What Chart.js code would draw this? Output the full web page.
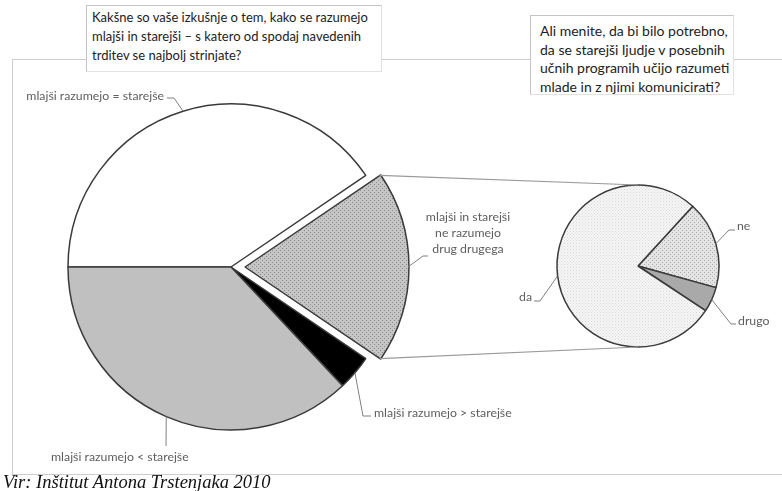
<!DOCTYPE html>
<html>
<head>
<meta charset="utf-8">
<script src="https://cdn.jsdelivr.net/npm/chart.js@4"></script>
<style>
  body { margin: 0; width: 782px; height: 491px; overflow: hidden; background: #fff; position: relative; font-family: Lato, sans-serif; }
  #frame { position: absolute; left: 12px; top: 59px; width: 820px; height: 414px; border: 1px solid #cdcdcd; }
  canvas { position: absolute; left: 0; top: 0; }
  .q { position: absolute; background: #fff; color: #222; white-space: nowrap;
       border-top: 1px solid #c4c4c4; border-left: 1px solid #c4c4c4; border-right: 1px solid #e2e2e2; border-bottom: 1px solid #e2e2e2; box-sizing: border-box; }
  #q1 { left: 86px; top: 5px; width: 296px; height: 67px; padding: 2px 5px; font-size: 13px; line-height: 19px; }
  #q2 { left: 530px; top: 15px; width: 204px; height: 80px; padding: 6px 9px; font-size: 14px; line-height: 18.7px; }
  #src { position: absolute; left: 3px; top: 472px; font: italic 18.5px "Liberation Serif", serif; color: #111; }
</style>
</head>
<body>
<div id="frame"></div>
<canvas id="mainChart" width="782" height="491"></canvas>
<canvas id="subChart" width="782" height="491"></canvas>
<div class="q" id="q1">Kakšne so vaše izkušnje o tem, kako se razumejo<br>mlajši in starejši – s katero od spodaj navedenih<br>trditev se najbolj strinjate?</div>
<div class="q" id="q2">Ali menite, da bi bilo potrebno,<br>da se starejši ljudje v posebnih<br>učnih programih učijo razumeti<br>mlade in z njimi komunicirati?</div>
<div id="src">Vir: Inštitut Antona Trstenjaka 2010</div>
<script>
// data (shares in %)
const mainLabels = ['mlajši razumejo = starejše', 'mlajši in starejši|ne razumejo|drug drugega', 'mlajši razumejo > starejše', 'mlajši razumejo < starejše'];
const mainValues = [40.5, 19, 3.5, 37];
const subLabels = ['ne', 'drugo', 'da'];
const subValues = [17.5, 5, 77.5];

function dotPattern(base, dot, size) {
    const c = document.createElement('canvas');
    c.width = c.height = size;
    const g = c.getContext('2d');
    g.fillStyle = base;
    g.fillRect(0, 0, size, size);
    g.fillStyle = dot;
    g.fillRect(0, 0, 1, 1);
    g.fillRect(size / 2, size / 2, 1, 1);
    return g.createPattern(c, 'repeat');
}

// point on the outer edge of an arc, frac 0..1 along it
function arcPoint(el, frac) {
    const a = el.startAngle + (el.endAngle - el.startAngle) * frac;
    const mid = (el.startAngle + el.endAngle) / 2;
    const s = (el.options.offset || 0) / 4;
    return [el.x + Math.cos(mid) * s + Math.cos(a) * el.outerRadius,
            el.y + Math.sin(mid) * s + Math.sin(a) * el.outerRadius];
}

// slice labels with leader lines
const notesPlugin = {
    id: 'notes',
    afterDatasetsDraw(chart, args, opts) {
        const ctx = chart.ctx;
        const meta = chart.getDatasetMeta(0);
        ctx.save();
        ctx.font = '12.3px Lato, sans-serif';
        ctx.fillStyle = '#5e5e5e';
        ctx.strokeStyle = '#808080';
        ctx.lineWidth = 1;
        ctx.textBaseline = 'middle';
        opts.items.forEach(n => {
            const p = arcPoint(meta.data[n.index], 0.5);
            ctx.beginPath();
            ctx.moveTo(p[0], p[1]);
            n.path.forEach(q => ctx.lineTo(q[0], q[1]));
            ctx.stroke();
            ctx.textAlign = n.align;
            chart.data.labels[n.index].split('|').forEach((t, k) => ctx.fillText(t, n.x, n.y + k * 16));
        });
        ctx.restore();
    }
};

const mainCtx = document.getElementById('mainChart').getContext('2d');
const mainChart = new Chart(mainCtx, {
    type: 'pie',
    data: {
        labels: mainLabels,
        datasets: [{
            data: mainValues,
            backgroundColor: ['#ffffff', dotPattern('#c6c6c6', '#8a8a8a', 4), '#000000', '#c0c0c0'],
            borderColor: '#3a3a3a',
            borderWidth: 1.5,
            offset: [0, 56, 0, 0]
        }]
    },
    options: {
        responsive: false,
        animation: false,
        events: [],
        rotation: -90,
        radius: 163,
        layout: { padding: { left: 0, right: 320, top: 43, bottom: 0 } },
        plugins: {
            legend: { display: false },
            tooltip: { enabled: false },
            notes: {
                items: [
                    { index: 0, align: 'right', x: 164, y: 96, path: [[174, 98], [167, 98]] },
                    { index: 1, align: 'center', x: 468, y: 217, path: [[423, 256], [428, 256]] },
                    { index: 2, align: 'left', x: 374, y: 413, path: [[363, 416], [371, 416]] },
                    { index: 3, align: 'left', x: 51, y: 457, path: [[166, 446]] }
                ]
            }
        }
    },
    plugins: [notesPlugin]
});

// lines from the exploded slice to the second pie
const connectorPlugin = {
    id: 'connectors',
    afterDraw(chart) {
        const big = mainChart.getDatasetMeta(0).data[1];
        const small = chart.getDatasetMeta(0).data[0];
        const a = arcPoint(big, 0);
        const b = arcPoint(big, 1);
        const ctx = chart.ctx;
        ctx.save();
        ctx.strokeStyle = '#9a9a9a';
        ctx.lineWidth = 1.2;
        ctx.beginPath();
        ctx.moveTo(a[0], a[1]);
        ctx.lineTo(small.x, small.y - small.outerRadius);
        ctx.moveTo(b[0], b[1]);
        ctx.lineTo(small.x, small.y + small.outerRadius);
        ctx.stroke();
        ctx.restore();
    }
};

const subCtx = document.getElementById('subChart').getContext('2d');
new Chart(subCtx, {
    type: 'pie',
    data: {
        labels: subLabels,
        datasets: [{
            data: subValues,
            backgroundColor: [dotPattern('#e4e4e4', '#ababab', 4), '#a9a9a9', dotPattern('#f7f7f7', '#d6d6d6', 3)],
            borderColor: '#3a3a3a',
            borderWidth: 1.5
        }]
    },
    options: {
        responsive: false,
        animation: false,
        events: [],
        rotation: 42.5,
        radius: 81,
        layout: { padding: { left: 494, right: 0, top: 41, bottom: 0 } },
        plugins: {
            legend: { display: false },
            tooltip: { enabled: false },
            notes: {
                items: [
                    { index: 0, align: 'left', x: 737, y: 226, path: [[729, 230], [735, 230]] },
                    { index: 1, align: 'left', x: 738, y: 321, path: [[731, 324], [736, 324]] },
                    { index: 2, align: 'right', x: 532, y: 297, path: [[540, 301], [534, 301]] }
                ]
            }
        }
    },
    plugins: [notesPlugin, connectorPlugin]
});
</script>
</body>
</html>
